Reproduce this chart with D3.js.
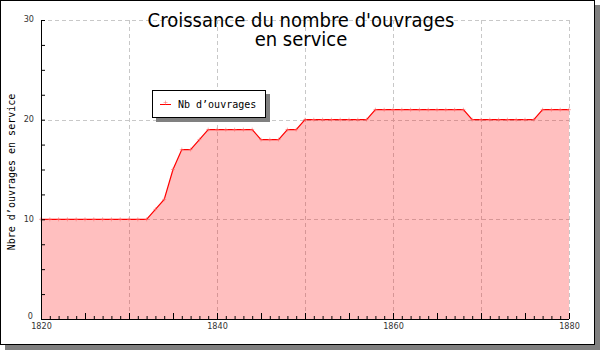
<!DOCTYPE html>
<html>
<head>
	<script src="https://cdn.jsdelivr.net/npm/d3@7"></script>
	<style>
		html, body { padding: 0; margin: 0; background: #ffffff; }
	</style>
</head>
<body>
	<script>
		// data: one value per year
		var years = d3.range(1820, 1881);
		var ouvrages = [
			10, 10, 10, 10, 10, 10, 10, 10, 10, 10,   // 1820-1829
			10, 10, 10, 11, 12, 15, 17, 17, 18, 19,   // 1830-1839
			19, 19, 19, 19, 19, 18, 18, 18, 19, 19,   // 1840-1849
			20, 20, 20, 20, 20, 20, 20, 20, 21, 21,   // 1850-1859
			21, 21, 21, 21, 21, 21, 21, 21, 21, 20,   // 1860-1869
			20, 20, 20, 20, 20, 20, 20, 21, 21, 21,   // 1870-1879
			21                                         // 1880
		];
		var yTicks = [0, 10, 20, 30];
		var xTicks = [1820, 1840, 1860, 1880];
		var titleLines = ["Croissance du nombre d'ouvrages", "en service"];
		var legendLabel = "Nb d\u2019ouvrages";
		var yTitle = "Nbre d\u2019ouvrages en service";

		var W = 600, H = 350;
		var svg = d3.select('body').append('svg')
			.attr('width', W)
			.attr('height', H);

		// frame with drop shadow
		svg.append('rect').attr('x', 5).attr('y', 5).attr('width', 595).attr('height', 345).attr('fill', '#808080');
		svg.append('rect').attr('x', 0.5).attr('y', 0.5).attr('width', 594).attr('height', 344)
			.attr('fill', '#ffffff').attr('stroke', '#000').attr('stroke-width', 1);

		var x = d3.scaleLinear().domain([1820, 1880]).range([41, 569]);
		var y = d3.scaleLinear().domain([0, 30]).range([319, 20]);

		var data = years.map(function (yr, i) { return { year: yr, v: ouvrages[i] }; });

		// grid
		var grid = svg.append('g').attr('stroke', '#c8c8c8').attr('stroke-dasharray', '4,3').attr('shape-rendering', 'crispEdges');
		grid.selectAll('.gx').data(d3.range(1830, 1881, 10)).enter().append('line')
			.attr('x1', function (d) { return Math.round(x(d)) + 0.5; })
			.attr('x2', function (d) { return Math.round(x(d)) + 0.5; })
			.attr('y1', y(30)).attr('y2', y(0));
		grid.selectAll('.gy').data([10, 20, 30]).enter().append('line')
			.attr('y1', function (d) { return Math.round(y(d)) + 0.5; })
			.attr('y2', function (d) { return Math.round(y(d)) + 0.5; })
			.attr('x1', x(1820)).attr('x2', x(1880));

		// area + line
		svg.append('path').datum(data)
			.attr('d', d3.area().x(function (d) { return x(d.year); }).y0(y(0)).y1(function (d) { return y(d.v); }))
			.attr('fill', 'rgba(255,0,0,0.25)');
		svg.append('path').datum(data)
			.attr('d', d3.line().x(function (d) { return x(d.year); }).y(function (d) { return y(d.v); }))
			.attr('fill', 'none').attr('stroke', '#ff0000').attr('stroke-width', 1.2);

		// markers (small pale crosses)
		var mk = svg.append('g').attr('stroke', 'rgba(255,110,110,0.55)').attr('stroke-width', 1);
		mk.selectAll('g').data(data).enter().append('path')
			.attr('d', function (d) {
				var cx = x(d.year), cy = y(d.v);
				return 'M' + (cx - 2) + ',' + cy + 'H' + (cx + 2) + 'M' + cx + ',' + (cy - 2) + 'V' + (cy + 2);
			});

		// axes
		var axisFont = '9px "DejaVu Sans Condensed", "DejaVu Sans", sans-serif';
		var yAxis = d3.axisLeft(y).tickValues(d3.range(0, 30.1, 2.5)).tickSize(4)
			.tickFormat(function (d) { return yTicks.indexOf(d) >= 0 ? d : ''; });
		var gy = svg.append('g').attr('transform', 'translate(' + x(1820) + ',0)').call(yAxis);
		gy.selectAll('.tick line').attr('x2', 4).attr('stroke', '#000');
		gy.selectAll('.tick text').attr('x', -7).attr('dy', '0.2em').style('font', axisFont).attr('fill', '#333');
		// the 0 label sits just above-left of the 1820 label
		gy.selectAll('.tick text').filter(function (d) { return d === 0; }).attr('x', -8).attr('dy', '-0.1em');
		gy.select('.domain').attr('d', 'M0.5,' + y(30) + 'V' + y(0)).attr('stroke', '#000');

		var xAxisMinor = d3.axisBottom(x).tickValues(years).tickSize(3).tickFormat('');
		var gxm = svg.append('g').attr('transform', 'translate(0,' + y(0) + ')').call(xAxisMinor);
		gxm.selectAll('.tick line').attr('y2', -3).attr('stroke', '#000');
		gxm.select('.domain').remove();
		var xAxis = d3.axisBottom(x).tickValues(d3.range(1820, 1881, 5)).tickSize(6)
			.tickFormat(function (d) { return xTicks.indexOf(d) >= 0 ? d : ''; });
		var gx = svg.append('g').attr('transform', 'translate(0,' + y(0) + ')').call(xAxis);
		gx.selectAll('.tick line').attr('y2', -6).attr('stroke', '#000');
		gx.selectAll('.tick text').attr('y', 4).style('font', axisFont).attr('fill', '#333');
		gx.select('.domain').attr('d', 'M' + x(1820) + ',0.5H' + x(1880)).attr('stroke', '#000');

		// title
		svg.append('text').attr('x', 301).attr('text-anchor', 'middle')
			.style('font', '20px "DejaVu Sans Condensed", "DejaVu Sans", sans-serif').attr('fill', '#000')
			.selectAll('tspan').data(titleLines).enter().append('tspan')
			.attr('x', 301).attr('y', function (d, i) { return 27 + i * 19; })
			.text(function (d) { return d; });

		// y title
		svg.append('text')
			.attr('transform', 'translate(15,' + 172 + ') rotate(-90)')
			.attr('text-anchor', 'middle')
			.style('font', '10px "DejaVu Sans Mono", monospace').attr('fill', '#000')
			.text(yTitle);

		// legend
		var lg = svg.append('g').attr('transform', 'translate(152,90)');
		lg.append('rect').attr('x', 4).attr('y', 4).attr('width', 114).attr('height', 28).attr('fill', '#808080');
		lg.append('rect').attr('x', 0.5).attr('y', 0.5).attr('width', 113).attr('height', 27)
			.attr('fill', '#fff').attr('stroke', '#000').attr('stroke-width', 1);
		lg.append('line').attr('x1', 8).attr('x2', 19).attr('y1', 14.5).attr('y2', 14.5).attr('stroke', '#ff0000');
		lg.append('path').attr('d', 'M11.5,12.5H15.5M13.5,10.5V14.5').attr('stroke', 'rgba(255,110,110,0.55)');
		lg.append('text').attr('x', 26).attr('y', 18)
			.style('font', '10px "DejaVu Sans Mono", monospace').attr('fill', '#000')
			.text(legendLabel);
	</script>
</body>
</html>
